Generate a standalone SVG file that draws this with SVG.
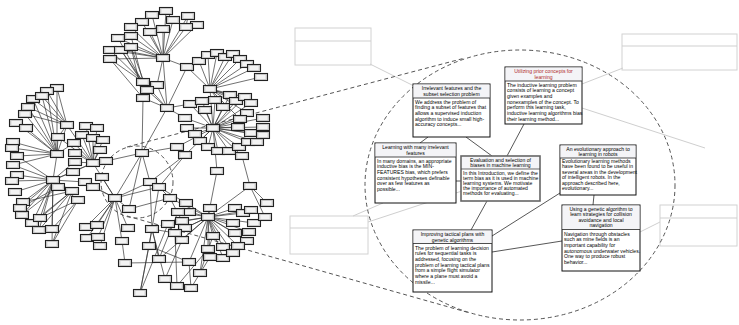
<svg xmlns="http://www.w3.org/2000/svg" xmlns:xlink="http://www.w3.org/1999/xlink" width="739" height="325" viewBox="0 0 739 325">
<style>
.e{stroke:#333;stroke-width:0.7;fill:none}
.d{stroke:#555;stroke-width:1;stroke-dasharray:4 3;fill:none}
.g{stroke:#cfcfcf;stroke-width:1;fill:none}
.gb{fill:#fff;stroke:#d2d2d2;stroke-width:1}
.tb{fill:#fff;stroke:#111;stroke-width:1}
.band{fill:#f4f4f7}
.c{stroke:#444;stroke-width:0.9;fill:none}
.tt{font-family:"Liberation Sans",Arial,sans-serif;font-size:5.1px;fill:#000;text-anchor:middle}
.bt{font-family:"Liberation Sans",Arial,sans-serif;font-size:5.1px;fill:#000}
.red{fill:#b02a2a}
</style>
<defs>
<g id="nb"><rect x="-6.5" y="-3.5" width="13" height="7" fill="#cfcfcf" stroke="#222" stroke-width="1.1"/><rect x="-4.6" y="-2" width="9.2" height="4" fill="#f3f3f3"/></g>
</defs>
<rect width="739" height="325" fill="#fff"/>

<g id="outer-boxes">
<g id="gbox-tl"><rect class="gb" x="295" y="28" width="76" height="37"/><line class="g" x1="295" y1="41" x2="371" y2="41"/></g>
<g id="gbox-tr"><rect class="gb" x="622" y="34" width="115" height="36"/><line class="g" x1="622" y1="46" x2="737" y2="46"/></g>
<g id="gbox-ll"><rect class="gb" x="290" y="216" width="78" height="38"/><line class="g" x1="290" y1="228" x2="368" y2="228"/></g>
<g id="gbox-lr"><rect class="gb" x="660" y="205" width="77" height="41"/><line class="g" x1="660" y1="218" x2="737" y2="218"/></g>
</g>

<g id="connectors">
<path class="g" d="M370 64L414 86M623 68L582 84M582 108L705 148M353 216L383 203M368 222L462 191M640 232L660 222"/>
<ellipse class="d" cx="520" cy="185" rx="155" ry="135"/>
<circle class="d" cx="137" cy="182" r="36"/>
<path class="d" d="M127 147L465 58M127 216L470 313"/>
<path class="e" d="M163 58L152 15M163 58L166 11M163 58L142 22M163 58L131 27M163 58L150 32M163 58L163 29M163 58L173 20M163 58L118 38M163 58L131 36M163 58L110 50M163 58L121 50M163 58L131 47M163 58L110 59M163 58L188 16M163 58L197 25M163 58L186 27
M110 50L143 82M121 50L147 90M131 47L143 98M110 59L143 82M118 38L147 90M131 36L143 82M110 59L143 98M121 50L143 82M131 47L147 90M173 20L166 11M188 16L186 27
M167 108L163 58M167 108L143 82M167 108L147 90M167 108L143 98M157 85L163 58M157 85L167 108M167 108L187 67M167 108L190 104M167 108L142 153M167 108L185 118M143 98L142 153
M210 89L187 67M210 89L199 61M210 89L208 55M210 89L217 53M210 89L225 57M210 89L233 54M210 89L240 59M210 89L247 64M210 89L254 68M210 89L261 77M210 89L213 128M210 89L230 95M210 89L245 97M210 89L251 103M210 89L236 101M210 89L223 107M210 89L247 113M210 89L240 119M187 67L163 58
M213 128L190 104M213 128L202 101M213 128L205 110M213 128L215 100M213 128L223 107M213 128L230 95M213 128L236 101M213 128L245 97M213 128L251 103M213 128L247 113M213 128L240 119M213 128L185 118M213 128L187 128M213 128L195 134M213 128L200 141M213 128L208 147M213 128L218 151M213 128L229 151M213 128L239 147M213 128L242 156M213 128L248 142M213 128L257 142M213 128L251 133M213 128L238 127M213 128L263 118M213 128L263 127M213 128L263 135M213 128L177 147M213 128L185 155
M213 128L217 171M217 171L208 217M242 156L250 186M250 186L208 217M250 186L267 203M250 186L265 217M185 155L150 182M185 155L159 187M177 147L142 153
M67 125L57 88M67 125L47 91M67 125L33 99M67 125L42 96M67 125L28 107M67 125L25 114M67 125L58 137M67 125L57 154M67 125L93 163
M57 154L16 123M57 154L26 128M57 154L13 142M57 154L12 148M57 154L17 156M57 154L13 165M57 154L33 99M57 154L42 96M57 154L28 107M57 154L58 137M57 154L74 143M57 154L57 88M57 154L47 91M57 154L25 114
M93 163L74 143M93 163L86 126M93 163L97 128M93 163L82 135M93 163L93 138M93 163L103 140M93 163L100 150M93 163L75 153M93 163L75 162M93 163L106 161M93 163L73 172M93 163L58 137M106 161L142 153M93 163L115 198
M53 180L17 156M53 180L13 165M53 180L17 175M53 180L12 181M53 180L15 192M53 180L23 202M53 180L20 208M53 180L22 215M53 180L32 223M53 180L40 218M53 180L39 230M53 180L52 229M53 180L52 244M53 180L58 187M53 180L73 163M53 180L73 172M53 180L72 191M53 180L78 200M53 180L57 154M53 180L85 182M53 180L93 163
M72 191L23 202M72 191L32 223M72 191L40 218M72 191L39 230M78 200L52 229M78 200L52 244M78 200L40 218M72 191L52 244M58 187L22 215M58 187L20 208
M115 198L86 227M115 198L97 225M115 198L87 238M115 198L98 237M115 198L100 246M115 198L129 209M115 198L128 228M115 198L122 241M115 198L142 153M115 198L85 182M115 198L93 187M115 198L102 177M115 198L150 182M115 198L159 187M122 241L125 263M125 263L189 262M129 209L170 198M142 153L150 182M142 153L129 209
M150 182L152 229M159 187L149 246M152 229L140 293M149 246L140 293M159 259L152 229M159 187L170 198
M208 217L210 208M208 217L186 203M208 217L189 212M208 217L178 212M208 217L235 208M208 217L243 213M208 217L251 210M208 217L254 223M208 217L233 223M208 217L182 221M208 217L185 228M208 217L168 224M208 217L175 233M208 217L182 240M208 217L213 236M208 217L235 233M208 217L249 232M208 217L247 241M208 217L223 247M208 217L238 246M208 217L208 249M208 217L210 257M208 217L223 258M208 217L233 253M208 217L189 262M208 217L200 273M208 217L170 198M208 217L159 259
M165 279L182 240M177 286L175 233M191 288L189 262M165 279L152 229M177 286L208 249M191 288L210 257M159 259L178 212M140 293L168 224M189 262L149 246M200 273L213 236M170 198L182 221M150 182L186 203M152 229L175 233"/>
<path class="c" d="M428 137L420 143M466 137L492 156M524 124L507 156M456 181L461 181M487 201L471 230M492 236L560 193M492 252L562 241M594 195L593 205"/>
</g>

<g id="graph-nodes">
<g id="v1" transform="translate(152,15)"><use href="#nb"/></g>
<g id="v2" transform="translate(166,11)"><use href="#nb"/></g>
<g id="v3" transform="translate(142,22)"><use href="#nb"/></g>
<g id="v4" transform="translate(131,27)"><use href="#nb"/></g>
<g id="v5" transform="translate(150,32)"><use href="#nb"/></g>
<g id="v6" transform="translate(163,29)"><use href="#nb"/></g>
<g id="v7" transform="translate(173,20)"><use href="#nb"/></g>
<g id="v8" transform="translate(118,38)"><use href="#nb"/></g>
<g id="v9" transform="translate(131,36)"><use href="#nb"/></g>
<g id="v10" transform="translate(110,50)"><use href="#nb"/></g>
<g id="v11" transform="translate(121,50)"><use href="#nb"/></g>
<g id="v12" transform="translate(131,47)"><use href="#nb"/></g>
<g id="v13" transform="translate(110,59)"><use href="#nb"/></g>
<g id="v14" transform="translate(188,16)"><use href="#nb"/></g>
<g id="v15" transform="translate(197,25)"><use href="#nb"/></g>
<g id="v17" transform="translate(186,27)"><use href="#nb"/></g>
<g id="v18" transform="translate(163,58)"><use href="#nb"/></g>
<g id="v19" transform="translate(143,82)"><use href="#nb"/></g>
<g id="v20" transform="translate(157,85)"><use href="#nb"/></g>
<g id="v21" transform="translate(147,90)"><use href="#nb"/></g>
<g id="v22" transform="translate(143,98)"><use href="#nb"/></g>
<g id="v23" transform="translate(167,108)"><use href="#nb"/></g>
<g id="v25" transform="translate(187,67)"><use href="#nb"/></g>
<g id="v26" transform="translate(199,61)"><use href="#nb"/></g>
<g id="v27" transform="translate(208,55)"><use href="#nb"/></g>
<g id="v28" transform="translate(217,53)"><use href="#nb"/></g>
<g id="v29" transform="translate(225,57)"><use href="#nb"/></g>
<g id="v30" transform="translate(233,54)"><use href="#nb"/></g>
<g id="v31" transform="translate(240,59)"><use href="#nb"/></g>
<g id="v32" transform="translate(247,64)"><use href="#nb"/></g>
<g id="v33" transform="translate(254,68)"><use href="#nb"/></g>
<g id="v34" transform="translate(261,77)"><use href="#nb"/></g>
<g id="v24" transform="translate(210,89)"><use href="#nb"/></g>
<g id="v36" transform="translate(190,104)"><use href="#nb"/></g>
<g id="v37" transform="translate(202,101)"><use href="#nb"/></g>
<g id="v38" transform="translate(205,110)"><use href="#nb"/></g>
<g id="v39" transform="translate(215,100)"><use href="#nb"/></g>
<g id="v40" transform="translate(223,107)"><use href="#nb"/></g>
<g id="v41" transform="translate(230,95)"><use href="#nb"/></g>
<g id="v42" transform="translate(236,101)"><use href="#nb"/></g>
<g id="v43" transform="translate(245,97)"><use href="#nb"/></g>
<g id="v44" transform="translate(251,103)"><use href="#nb"/></g>
<g id="v45" transform="translate(247,113)"><use href="#nb"/></g>
<g id="v46" transform="translate(240,119)"><use href="#nb"/></g>
<g id="v47" transform="translate(185,118)"><use href="#nb"/></g>
<g id="v48" transform="translate(187,128)"><use href="#nb"/></g>
<g id="v49" transform="translate(195,134)"><use href="#nb"/></g>
<g id="v50" transform="translate(200,141)"><use href="#nb"/></g>
<g id="v51" transform="translate(208,147)"><use href="#nb"/></g>
<g id="v52" transform="translate(218,151)"><use href="#nb"/></g>
<g id="v53" transform="translate(229,151)"><use href="#nb"/></g>
<g id="v54" transform="translate(239,147)"><use href="#nb"/></g>
<g id="v55" transform="translate(242,156)"><use href="#nb"/></g>
<g id="v56" transform="translate(248,142)"><use href="#nb"/></g>
<g id="v57" transform="translate(257,142)"><use href="#nb"/></g>
<g id="v58" transform="translate(251,133)"><use href="#nb"/></g>
<g id="v59" transform="translate(238,127)"><use href="#nb"/></g>
<g id="v60" transform="translate(263,118)"><use href="#nb"/></g>
<g id="v61" transform="translate(263,127)"><use href="#nb"/></g>
<g id="v62" transform="translate(263,135)"><use href="#nb"/></g>
<g id="v63" transform="translate(177,147)"><use href="#nb"/></g>
<g id="v64" transform="translate(185,155)"><use href="#nb"/></g>
<g id="v35" transform="translate(213,128)"><use href="#nb"/></g>
<g id="v65" transform="translate(217,171)"><use href="#nb"/></g>
<g id="v66" transform="translate(57,88)"><use href="#nb"/></g>
<g id="v67" transform="translate(47,91)"><use href="#nb"/></g>
<g id="v68" transform="translate(33,99)"><use href="#nb"/></g>
<g id="v69" transform="translate(42,96)"><use href="#nb"/></g>
<g id="v70" transform="translate(28,107)"><use href="#nb"/></g>
<g id="v71" transform="translate(25,114)"><use href="#nb"/></g>
<g id="v72" transform="translate(67,125)"><use href="#nb"/></g>
<g id="v73" transform="translate(58,137)"><use href="#nb"/></g>
<g id="v74" transform="translate(16,123)"><use href="#nb"/></g>
<g id="v75" transform="translate(26,128)"><use href="#nb"/></g>
<g id="v76" transform="translate(13,142)"><use href="#nb"/></g>
<g id="v77" transform="translate(12,148)"><use href="#nb"/></g>
<g id="v78" transform="translate(57,154)"><use href="#nb"/></g>
<g id="v79" transform="translate(74,143)"><use href="#nb"/></g>
<g id="v80" transform="translate(86,126)"><use href="#nb"/></g>
<g id="v81" transform="translate(97,128)"><use href="#nb"/></g>
<g id="v82" transform="translate(82,135)"><use href="#nb"/></g>
<g id="v83" transform="translate(93,138)"><use href="#nb"/></g>
<g id="v84" transform="translate(103,140)"><use href="#nb"/></g>
<g id="v85" transform="translate(100,150)"><use href="#nb"/></g>
<g id="v86" transform="translate(75,153)"><use href="#nb"/></g>
<g id="v87" transform="translate(75,162)"><use href="#nb"/></g>
<g id="v88" transform="translate(93,163)"><use href="#nb"/></g>
<g id="v89" transform="translate(106,161)"><use href="#nb"/></g>
<g id="v90" transform="translate(17,156)"><use href="#nb"/></g>
<g id="v91" transform="translate(13,165)"><use href="#nb"/></g>
<g id="v92" transform="translate(73,172)"><use href="#nb"/></g>
<g id="v93" transform="translate(17,175)"><use href="#nb"/></g>
<g id="v94" transform="translate(12,181)"><use href="#nb"/></g>
<g id="v95" transform="translate(53,180)"><use href="#nb"/></g>
<g id="v96" transform="translate(58,187)"><use href="#nb"/></g>
<g id="v97" transform="translate(85,182)"><use href="#nb"/></g>
<g id="v98" transform="translate(93,187)"><use href="#nb"/></g>
<g id="v99" transform="translate(102,177)"><use href="#nb"/></g>
<g id="v100" transform="translate(15,192)"><use href="#nb"/></g>
<g id="v101" transform="translate(72,191)"><use href="#nb"/></g>
<g id="v102" transform="translate(78,200)"><use href="#nb"/></g>
<g id="v103" transform="translate(23,202)"><use href="#nb"/></g>
<g id="v104" transform="translate(20,208)"><use href="#nb"/></g>
<g id="v105" transform="translate(22,215)"><use href="#nb"/></g>
<g id="v106" transform="translate(32,223)"><use href="#nb"/></g>
<g id="v107" transform="translate(40,218)"><use href="#nb"/></g>
<g id="v108" transform="translate(39,230)"><use href="#nb"/></g>
<g id="v109" transform="translate(52,229)"><use href="#nb"/></g>
<g id="v110" transform="translate(52,244)"><use href="#nb"/></g>
<g id="v111" transform="translate(115,198)"><use href="#nb"/></g>
<g id="v112" transform="translate(129,209)"><use href="#nb"/></g>
<g id="v113" transform="translate(86,227)"><use href="#nb"/></g>
<g id="v114" transform="translate(97,225)"><use href="#nb"/></g>
<g id="v115" transform="translate(87,238)"><use href="#nb"/></g>
<g id="v116" transform="translate(98,237)"><use href="#nb"/></g>
<g id="v117" transform="translate(100,246)"><use href="#nb"/></g>
<g id="v118" transform="translate(128,228)"><use href="#nb"/></g>
<g id="v119" transform="translate(122,241)"><use href="#nb"/></g>
<g id="v120" transform="translate(125,263)"><use href="#nb"/></g>
<g id="v121" transform="translate(142,153)"><use href="#nb"/></g>
<g id="v122" transform="translate(150,182)"><use href="#nb"/></g>
<g id="v123" transform="translate(159,187)"><use href="#nb"/></g>
<g id="v124" transform="translate(170,198)"><use href="#nb"/></g>
<g id="v125" transform="translate(152,229)"><use href="#nb"/></g>
<g id="v126" transform="translate(149,246)"><use href="#nb"/></g>
<g id="v127" transform="translate(159,259)"><use href="#nb"/></g>
<g id="v128" transform="translate(140,293)"><use href="#nb"/></g>
<g id="v132" transform="translate(186,203)"><use href="#nb"/></g>
<g id="v133" transform="translate(189,212)"><use href="#nb"/></g>
<g id="v134" transform="translate(178,212)"><use href="#nb"/></g>
<g id="v135" transform="translate(235,208)"><use href="#nb"/></g>
<g id="v136" transform="translate(243,213)"><use href="#nb"/></g>
<g id="v137" transform="translate(251,210)"><use href="#nb"/></g>
<g id="v138" transform="translate(254,223)"><use href="#nb"/></g>
<g id="v139" transform="translate(233,223)"><use href="#nb"/></g>
<g id="v140" transform="translate(182,221)"><use href="#nb"/></g>
<g id="v141" transform="translate(185,228)"><use href="#nb"/></g>
<g id="v142" transform="translate(168,224)"><use href="#nb"/></g>
<g id="v143" transform="translate(175,233)"><use href="#nb"/></g>
<g id="v144" transform="translate(182,240)"><use href="#nb"/></g>
<g id="v145" transform="translate(213,236)"><use href="#nb"/></g>
<g id="v146" transform="translate(235,233)"><use href="#nb"/></g>
<g id="v147" transform="translate(249,232)"><use href="#nb"/></g>
<g id="v148" transform="translate(247,241)"><use href="#nb"/></g>
<g id="v149" transform="translate(223,247)"><use href="#nb"/></g>
<g id="v150" transform="translate(238,246)"><use href="#nb"/></g>
<g id="v151" transform="translate(208,249)"><use href="#nb"/></g>
<g id="v152" transform="translate(210,257)"><use href="#nb"/></g>
<g id="v153" transform="translate(223,258)"><use href="#nb"/></g>
<g id="v154" transform="translate(233,253)"><use href="#nb"/></g>
<g id="v155" transform="translate(189,262)"><use href="#nb"/></g>
<g id="v156" transform="translate(200,273)"><use href="#nb"/></g>
<g id="v157" transform="translate(250,186)"><use href="#nb"/></g>
<g id="v158" transform="translate(267,203)"><use href="#nb"/></g>
<g id="v159" transform="translate(265,217)"><use href="#nb"/></g>
<g id="v160" transform="translate(165,279)"><use href="#nb"/></g>
<g id="v161" transform="translate(177,286)"><use href="#nb"/></g>
<g id="v162" transform="translate(191,288)"><use href="#nb"/></g>
<g id="v131" transform="translate(210,208)"><use href="#nb"/></g>
<g id="v130" transform="translate(208,217)"><use href="#nb"/></g>
</g>

<g id="doc-irrelevant">
<rect class="tb" x="413" y="84" width="77" height="53"/>
<rect class="band" x="413.5" y="84.5" width="76" height="13.5"/>
<line x1="413" y1="98" x2="490" y2="98" stroke="#222" stroke-width="0.8"/>
<text class="tt" x="451.5" y="90">Irrelevant features and the</text>
<text class="tt" x="451.5" y="95.5">subset selection problem</text>
<text class="bt" x="415" y="103.5">We address the problem of</text>
<text class="bt" x="415" y="109.2">finding a subset of features that</text>
<text class="bt" x="415" y="114.9">allows a supervised induction</text>
<text class="bt" x="415" y="120.6">algorithm to induce small high-</text>
<text class="bt" x="415" y="126.3">accuracy concepts...</text>
</g>

<g id="doc-utilizing">
<rect class="tb" x="505" y="67" width="77" height="57"/>
<rect class="band" x="505.5" y="67.5" width="76" height="13.5"/>
<line x1="505" y1="81" x2="582" y2="81" stroke="#222" stroke-width="0.8"/>
<text class="tt red" x="543.5" y="73">Utilizing prior concepts for</text>
<text class="tt red" x="543.5" y="78.5">learning</text>
<text class="bt" x="507" y="86.5">The inductive learning problem</text>
<text class="bt" x="507" y="92.2">consists of learning a concept</text>
<text class="bt" x="507" y="97.9">given examples and</text>
<text class="bt" x="507" y="103.6">nonexamples of the concept. To</text>
<text class="bt" x="507" y="109.3">perform this learning task,</text>
<text class="bt" x="507" y="115">inductive learning algorithms bias</text>
<text class="bt" x="507" y="120.7">their learning method...</text>
</g>

<g id="doc-learning">
<rect class="tb" x="375" y="143" width="81" height="60"/>
<rect class="band" x="375.5" y="143.5" width="80" height="13.5"/>
<line x1="375" y1="157" x2="456" y2="157" stroke="#222" stroke-width="0.8"/>
<text class="tt" x="415.5" y="149">Learning with many irrelevant</text>
<text class="tt" x="415.5" y="154.5">features</text>
<text class="bt" x="377" y="162.5">In many domains, an appropriate</text>
<text class="bt" x="377" y="168.2">inductive bias is the MIN-</text>
<text class="bt" x="377" y="173.9">FEATURES bias, which prefers</text>
<text class="bt" x="377" y="179.6">consistent hypotheses definable</text>
<text class="bt" x="377" y="185.3">over as few features as</text>
<text class="bt" x="377" y="191">possible...</text>
</g>

<g id="doc-evaluation">
<rect x="461" y="156" width="79" height="45" fill="#fff" stroke="#666" stroke-width="1.6"/>
<rect class="band" x="462" y="157" width="77" height="12"/>
<line x1="461" y1="169" x2="540" y2="169" stroke="#444" stroke-width="0.8"/>
<text class="tt" x="500.5" y="161.8">Evaluation and selection of</text>
<text class="tt" x="500.5" y="167.3">biases in machine learning</text>
<text class="bt" x="463" y="174.5">In this Introduction, we define the</text>
<text class="bt" x="463" y="179.7">term bias as it is used in machine</text>
<text class="bt" x="463" y="184.9">learning systems. We motivate</text>
<text class="bt" x="463" y="190.1">the importance of automated</text>
<text class="bt" x="463" y="195.3">methods for evaluating...</text>
</g>

<g id="doc-evolutionary">
<rect class="tb" x="560" y="145" width="76" height="50"/>
<rect class="band" x="560.5" y="145.5" width="75" height="12.5"/>
<line x1="560" y1="158" x2="636" y2="158" stroke="#222" stroke-width="0.8"/>
<text class="tt" x="598" y="151">An evolutionary approach to</text>
<text class="tt" x="598" y="156.3">learning in robots</text>
<text class="bt" x="562" y="163">Evolutionary learning methods</text>
<text class="bt" x="562" y="168.4">have been found to be useful in</text>
<text class="bt" x="562" y="173.8">several areas in the development</text>
<text class="bt" x="562" y="179.2">of intelligent robots. In the</text>
<text class="bt" x="562" y="184.6">approach described here,</text>
<text class="bt" x="562" y="190">evolutionary...</text>
</g>

<g id="doc-genetic-navigation">
<rect class="tb" x="562" y="205" width="78" height="66"/>
<rect class="band" x="562.5" y="205.5" width="77" height="24"/>
<line x1="562" y1="229.5" x2="640" y2="229.5" stroke="#222" stroke-width="0.8"/>
<text class="tt" x="601" y="211">Using a genetic algorithm to</text>
<text class="tt" x="601" y="216.4">learn strategies for collision</text>
<text class="tt" x="601" y="221.8">avoidance and local</text>
<text class="tt" x="601" y="227.2">navigation</text>
<text class="bt" x="564" y="235.5">Navigation through obstacles</text>
<text class="bt" x="564" y="241.2">such as mine fields is an</text>
<text class="bt" x="564" y="246.9">important capability for</text>
<text class="bt" x="564" y="252.6">autonomous underwater vehicles.</text>
<text class="bt" x="564" y="258.3">One way to produce robust</text>
<text class="bt" x="564" y="264">behavior...</text>
</g>

<g id="doc-tactical">
<rect class="tb" x="413" y="230" width="79" height="62"/>
<rect class="band" x="413.5" y="230.5" width="78" height="13"/>
<line x1="413" y1="243.5" x2="492" y2="243.5" stroke="#222" stroke-width="0.8"/>
<text class="tt" x="452.5" y="236">Improving tactical plans with</text>
<text class="tt" x="452.5" y="241.5">genetic algorithms</text>
<text class="bt" x="415" y="249.5">The problem of learning decision</text>
<text class="bt" x="415" y="255.2">rules for sequential tasks is</text>
<text class="bt" x="415" y="260.9">addressed, focusing on the</text>
<text class="bt" x="415" y="266.6">problem of learning tactical plans</text>
<text class="bt" x="415" y="272.3">from a simple flight simulator</text>
<text class="bt" x="415" y="278">where a plane must avoid a</text>
<text class="bt" x="415" y="283.7">missile...</text>
</g>
</svg>
